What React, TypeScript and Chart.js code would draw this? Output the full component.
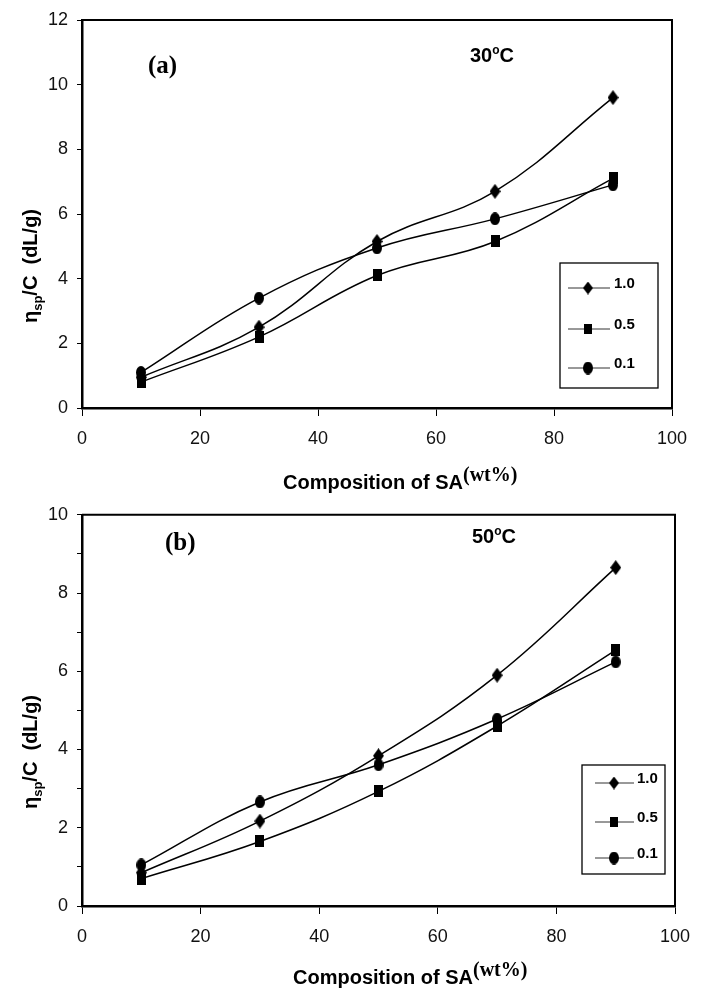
import React, { useEffect, useRef } from "react";
import { Chart, registerables } from "chart.js";

Chart.register(...registerables);

// ---- data ----
const compositions = [10, 30, 50, 70, 90];
const seriesLabels = ["1.0", "0.5", "0.1"];
const a_1_0 = [0.95, 2.5, 5.15, 6.7, 9.6];
const a_0_5 = [0.8, 2.2, 4.1, 5.15, 7.1];
const a_0_1 = [1.1, 3.4, 4.95, 5.85, 6.9];
const b_1_0 = [0.85, 2.17, 3.84, 5.9, 8.65];
const b_0_5 = [0.7, 1.65, 2.93, 4.6, 6.54];
const b_0_1 = [1.05, 2.66, 3.61, 4.78, 6.24];
const xTickLabels = [0, 20, 40, 60, 80, 100];
const yTickLabelsA = [0, 2, 4, 6, 8, 10, 12];
const yTickLabelsB = [0, 2, 4, 6, 8, 10];

const SANS = "'Liberation Sans', Arial, sans-serif";
const SERIF = "'Liberation Serif', 'Times New Roman', serif";
const W = 705;

function makeMarker(kind: string, w: number, h: number) {
  const c = document.createElement("canvas");
  c.width = w;
  c.height = h;
  const ctx = c.getContext("2d")!;
  ctx.fillStyle = "#000";
  ctx.beginPath();
  if (kind === "diamond") {
    ctx.moveTo(w / 2, 0);
    ctx.lineTo(w, h / 2);
    ctx.lineTo(w / 2, h);
    ctx.lineTo(0, h / 2);
    ctx.closePath();
  } else if (kind === "square") {
    ctx.rect(0, 0, w, h);
  } else {
    ctx.ellipse(w / 2, h / 2, w / 2, h / 2, 0, 0, Math.PI * 2);
  }
  ctx.fill();
  return c;
}

type Part = { text: string; font: string; dy?: number };

function drawRuns(ctx: CanvasRenderingContext2D, x: number, y: number, parts: Part[], center = false) {
  let total = 0;
  for (const p of parts) {
    ctx.font = p.font;
    total += ctx.measureText(p.text).width;
  }
  let cx = center ? x - total / 2 : x;
  for (const p of parts) {
    ctx.font = p.font;
    ctx.fillText(p.text, cx, y + (p.dy || 0));
    cx += ctx.measureText(p.text).width;
  }
}

const decorPlugin = {
  id: "decor",
  afterDraw(chart: any, _args: any, o: any) {
    const ctx: CanvasRenderingContext2D = chart.ctx;
    const ca = chart.chartArea;
    ctx.save();
    // top and right frame
    ctx.strokeStyle = "#000";
    ctx.lineWidth = 2;
    ctx.beginPath();
    ctx.moveTo(ca.left, ca.top);
    ctx.lineTo(ca.right, ca.top);
    ctx.lineTo(ca.right, ca.bottom);
    ctx.stroke();

    ctx.fillStyle = "#000";
    ctx.textBaseline = "alphabetic";
    ctx.textAlign = "left";

    // panel tag
    ctx.font = `bold 25px ${SERIF}`;
    ctx.fillText(o.tag, o.tagX, o.tagY);
    // temperature
    drawRuns(ctx, o.tempX, o.tempY, [
      { text: o.temp, font: `bold 20px ${SANS}` },
      { text: "o", font: `bold 12px ${SANS}`, dy: -8 },
      { text: "C", font: `bold 20px ${SANS}` },
    ]);

    // x title
    drawRuns(ctx, o.xTitleX, o.xTitleY, [
      { text: "Composition of SA", font: `bold 20px ${SANS}` },
      { text: "(wt%)", font: `bold 20px ${SERIF}`, dy: -8 },
    ]);

    // y title
    ctx.save();
    ctx.translate(o.yTitleX, o.yTitleY);
    ctx.rotate(-Math.PI / 2);
    drawRuns(
      ctx,
      0,
      7,
      [
        { text: "η", font: `bold 20px ${SANS}` },
        { text: "sp", font: `bold 13px ${SANS}`, dy: 5 },
        { text: "/C  (dL/g)", font: `bold 20px ${SANS}` },
      ],
      true
    );
    ctx.restore();

    // legend
    const L = o.legend;
    ctx.strokeStyle = "#000";
    ctx.lineWidth = 1.3;
    ctx.strokeRect(L.x0, L.y0, L.x1 - L.x0, L.y1 - L.y0);
    chart.data.datasets.forEach((ds: any, i: number) => {
      const y = L.rows[i];
      ctx.strokeStyle = "#333";
      ctx.lineWidth = 1;
      ctx.beginPath();
      ctx.moveTo(L.lineX0, y);
      ctx.lineTo(L.lineX1, y);
      ctx.stroke();
      const m = ds.legendMarker as HTMLCanvasElement;
      ctx.drawImage(m, L.markX - m.width / 2, y - m.height / 2);
      ctx.fillStyle = "#000";
      ctx.font = `bold 15px ${SANS}`;
      ctx.textBaseline = "middle";
      ctx.fillText(ds.label, L.textX, y - 4);
      ctx.textBaseline = "alphabetic";
    });
    ctx.restore();
  },
};

function buildConfig(p: any) {
  const kinds = ["diamond", "square", "circle"];
  const sizes: any = { diamond: [11, 15], square: [9, 12], circle: [10, 13] };
  const lsizes: any = { diamond: [10, 13], square: [8, 10], circle: [10, 13] };
  const datasets = p.series.map((vals: number[], i: number) => {
    const k = kinds[i];
    return {
      label: seriesLabels[i],
      data: compositions.map((x, j) => ({ x, y: vals[j] })),
      borderColor: "#000",
      backgroundColor: "#000",
      borderWidth: 1.5,
      tension: 0.4,
      fill: false,
      clip: false,
      pointStyle: makeMarker(k, sizes[k][0], sizes[k][1]),
      pointRadius: 6,
      legendMarker: makeMarker(k, lsizes[k][0], lsizes[k][1]),
    };
  });
  return {
    type: "line",
    data: { datasets },
    plugins: [decorPlugin],
    options: {
      responsive: false,
      animation: false,
      events: [],
      layout: { padding: { top: p.top, right: W - p.right, left: 0, bottom: 0 } },
      plugins: {
        legend: { display: false },
        tooltip: { enabled: false },
        decor: p.decor,
      },
      scales: {
        x: {
          type: "linear",
          min: 0,
          max: 100,
          afterFit: (s: any) => {
            s.height = p.height - p.bottom;
          },
          grid: { display: true, drawOnChartArea: false, drawTicks: true, tickLength: 8, color: "#000", lineWidth: 1 },
          border: { display: true, color: "#000", width: 2.5 },
          ticks: {
            stepSize: 20,
            autoSkip: false,
            maxRotation: 0,
            padding: 12,
            color: "#111",
            font: { family: SANS, size: 18 },
            callback: (v: number) => (xTickLabels.includes(v) ? String(v) : ""),
          },
        },
        y: {
          type: "linear",
          min: 0,
          max: p.yMax,
          afterFit: (s: any) => {
            s.width = 82;
          },
          grid: { display: true, drawOnChartArea: false, drawTicks: true, tickLength: 5, color: "#000", lineWidth: 1 },
          border: { display: true, color: "#000", width: 2.5 },
          ticks: {
            stepSize: p.yStep,
            autoSkip: false,
            padding: 9,
            color: "#111",
            font: { family: SANS, size: 18 },
            callback: (v: number) => (p.yLabels.includes(v) ? String(v) : ""),
          },
        },
      },
    },
  };
}

function Panel({ cfg, top, height }: { cfg: any; top: number; height: number }) {
  const ref = useRef<HTMLCanvasElement>(null);
  useEffect(() => {
    const chart = new Chart(ref.current!, cfg);
    return () => chart.destroy();
  }, []);
  return (
    <canvas
      ref={ref}
      width={W}
      height={height}
      style={{ position: "absolute", left: 0, top, width: W, height, display: "block" }}
    />
  );
}

const HA = 495;
const HB = 494;

const cfgA = buildConfig({
  series: [a_1_0, a_0_5, a_0_1],
  yMax: 12,
  yStep: 2,
  yLabels: yTickLabelsA,
  top: 20,
  bottom: 408,
  right: 672,
  height: HA,
  decor: {
    tag: "(a)",
    tagX: 148,
    tagY: 73,
    temp: "30",
    tempX: 470,
    tempY: 62,
    xTitleX: 283,
    xTitleY: 489,
    yTitleX: 30,
    yTitleY: 266,
    legend: {
      x0: 560,
      x1: 658,
      y0: 263,
      y1: 388,
      rows: [288, 329, 368],
      lineX0: 568,
      lineX1: 610,
      markX: 588,
      textX: 614,
    },
  },
});

const cfgB = buildConfig({
  series: [b_1_0, b_0_5, b_0_1],
  yMax: 10,
  yStep: 1,
  yLabels: yTickLabelsB,
  top: 15,
  bottom: 411,
  right: 675,
  height: HB,
  decor: {
    tag: "(b)",
    tagX: 165,
    tagY: 55,
    temp: "50",
    tempX: 472,
    tempY: 48,
    xTitleX: 293,
    xTitleY: 489,
    yTitleX: 30,
    yTitleY: 257,
    legend: {
      x0: 582,
      x1: 665,
      y0: 270,
      y1: 379,
      rows: [288, 327, 363],
      lineX0: 595,
      lineX1: 634,
      markX: 614,
      textX: 637,
    },
  },
});

export default function App() {
  return (
    <div style={{ position: "absolute", left: 0, top: 0, width: W, height: 989, background: "#fff" }}>
      <Panel cfg={cfgA} top={0} height={HA} />
      <Panel cfg={cfgB} top={HA} height={HB} />
    </div>
  );
}
